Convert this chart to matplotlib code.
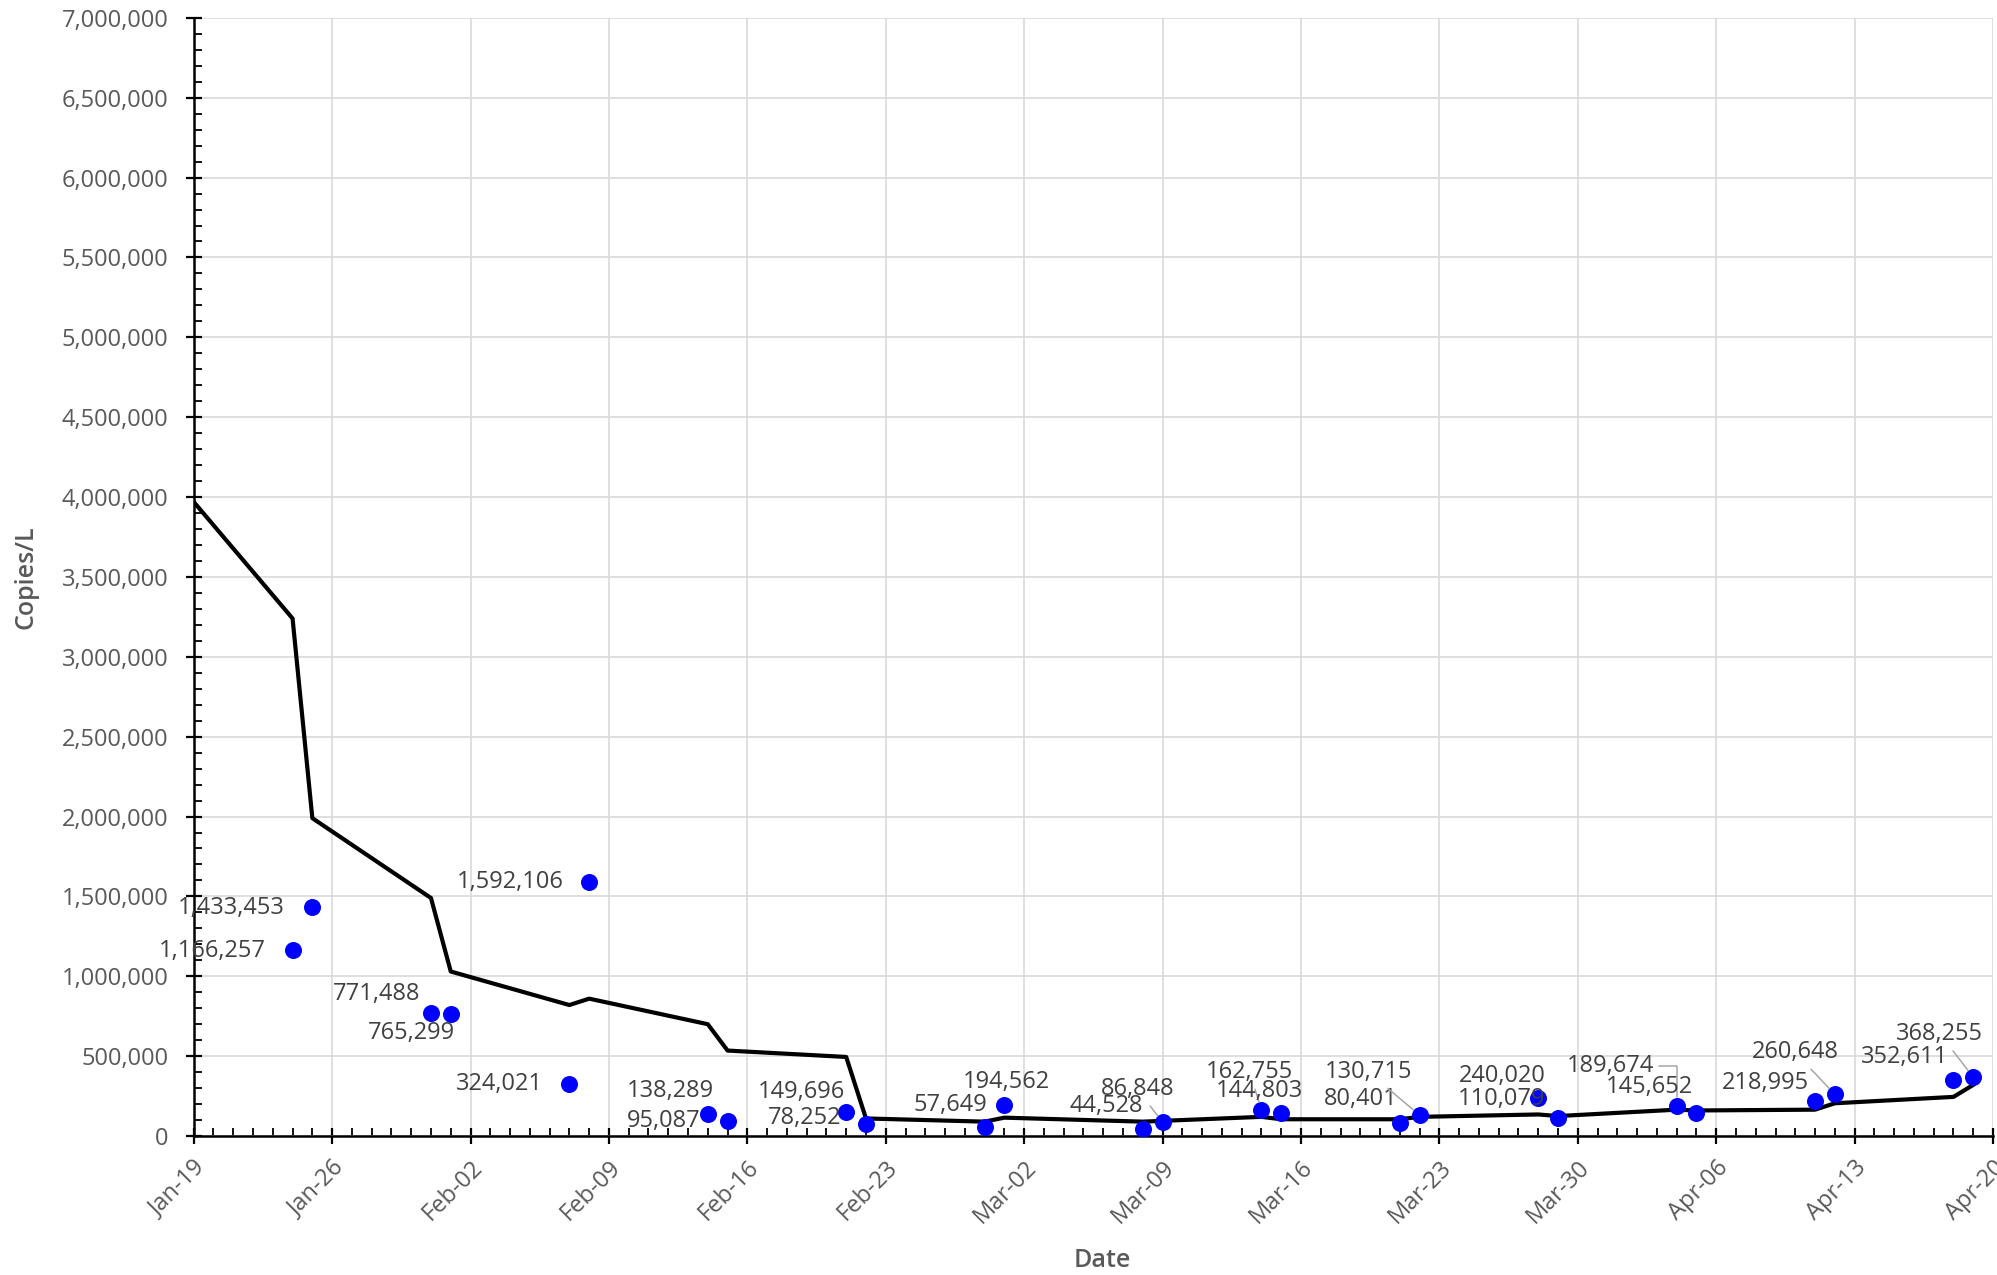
import datetime as dt
import matplotlib
matplotlib.use("Agg")
import matplotlib.pyplot as plt
import matplotlib.dates as mdates
import matplotlib.ticker as mticker
import numpy as np
import pandas as pd

# Trend line (Copies/L)
line_dates = ["2021-01-19", "2021-01-24", "2021-01-25", "2021-01-31", "2021-02-01",
              "2021-02-07", "2021-02-08", "2021-02-14", "2021-02-15", "2021-02-21",
              "2021-02-22", "2021-02-28", "2021-03-01", "2021-03-08", "2021-03-09",
              "2021-03-14", "2021-03-15", "2021-03-21", "2021-03-22", "2021-03-28",
              "2021-03-29", "2021-04-04", "2021-04-05", "2021-04-11", "2021-04-12",
              "2021-04-18", "2021-04-19"]
line_values = [3970000, 3240000, 1990000, 1490000, 1030000,
               820000, 860000, 700000, 535000, 495000,
               110000, 90000, 115000, 90000, 95000,
               120000, 105000, 105000, 120000, 135000,
               125000, 165000, 160000, 165000, 205000,
               245000, 320000]

# Sample measurements
sample_dates = ["2021-01-24", "2021-01-25", "2021-01-31", "2021-02-01", "2021-02-07",
                "2021-02-08", "2021-02-14", "2021-02-15", "2021-02-21", "2021-02-22",
                "2021-02-28", "2021-03-01", "2021-03-08", "2021-03-09", "2021-03-14",
                "2021-03-15", "2021-03-21", "2021-03-22", "2021-03-28", "2021-03-29",
                "2021-04-04", "2021-04-05", "2021-04-11", "2021-04-12", "2021-04-18",
                "2021-04-19"]
sample_values = [1166257, 1433453, 771488, 765299, 324021,
                 1592106, 138289, 95087, 149696, 78252,
                 57649, 194562, 44528, 86848, 162755,
                 144803, 80401, 130715, 240020, 110079,
                 189674, 145652, 218995, 260648, 352611,
                 368255]

# label placement (screen px offsets from point: right edge of text, centre y)
label_offsets = [(-21, 1), (-22, 1), (-8, -15), (3, 15), (-21, 0),
                 (-20, 0), (5, -18), (-21, 0), (-1, -16), (-19, -4),
                 (2, -17), (36, -18), (0, -18), (9, -26), (25, -30),
                 (17, -17), (-2, -19), (-6, -34), (6, -17), (-10, -15),
                 (-18, -31), (-3, -20), (-5, -14), (3, -33), (-4, -18),
                 (8, -34)]
leader_labels = {86848, 162755, 130715, 189674, 260648, 368255}

line_x = pd.to_datetime(line_dates)
sample_x = pd.to_datetime(sample_dates)

fig = plt.figure(figsize=(19.97, 12.75), dpi=100)
ax = fig.add_axes([0.097, 0.109, 0.901, 0.877])

font = ["Open Sans", "DejaVu Sans"]
tick_color = "#595959"
label_color = "#404040"

ax.plot(line_x, line_values, color="black", lw=3.0, zorder=3)
ax.scatter(sample_x, sample_values, s=150, color="#0000ff", zorder=4, linewidths=0)

px2pt = 1.274 / 1.389
for x, v, (dx, dy) in zip(sample_x, sample_values, label_offsets):
    kw = {}
    if v in leader_labels:
        cs = "angle,angleA=0,angleB=90,rad=0" if v == 189674 else "arc3"
        kw["arrowprops"] = dict(arrowstyle="-", color="#a6a6a6", lw=1.1,
                                shrinkA=2, shrinkB=6, connectionstyle=cs)
    ax.annotate(f"{v:,}", xy=(x, v), xytext=(dx * px2pt, -dy * px2pt),
                textcoords="offset points", ha="right", va="center",
                fontsize=17, color=label_color, family=font, zorder=5, **kw)

ax.set_xlim(pd.Timestamp("2021-01-19"), pd.Timestamp("2021-04-20"))
ax.set_ylim(0, 7000000)

major_x = pd.date_range("2021-01-19", "2021-04-20", freq="7D")
ax.set_xticks(major_x)
ax.xaxis.set_major_formatter(mdates.DateFormatter("%b-%d"))
ax.xaxis.set_minor_locator(mdates.DayLocator())
ax.yaxis.set_major_locator(mticker.MultipleLocator(500000))
ax.yaxis.set_minor_locator(mticker.MultipleLocator(100000))
ax.yaxis.set_major_formatter(mticker.FuncFormatter(lambda v, p: f"{int(v):,}"))

ax.grid(True, which="major", color="#d9d9d9", lw=1.2, zorder=0)
ax.set_axisbelow(True)
for s in ["top", "right"]:
    ax.spines[s].set_visible(False)
for s in ["left", "bottom"]:
    ax.spines[s].set_linewidth(1.8)
    ax.spines[s].set_color("black")

ax.tick_params(which="major", direction="inout", length=12, width=1.6, colors="black",
               labelcolor=tick_color, labelsize=17)
ax.tick_params(which="minor", direction="in", length=6, width=1.3, color="black")
ax.tick_params(axis="y", which="major", pad=12)
ax.tick_params(axis="x", which="major", pad=8)
for lab in ax.get_xticklabels():
    lab.set_rotation(45)
    lab.set_ha("right")
    lab.set_rotation_mode("anchor")
for lab in ax.get_xticklabels() + ax.get_yticklabels():
    lab.set_family(font)

ax.set_ylabel("Copies/L", fontsize=18, color=tick_color, family=font, fontweight="semibold")
ax.set_xlabel("Date", fontsize=18, color=tick_color, family=font, fontweight="semibold")
ax.yaxis.set_label_coords(-0.086, 0.5)
ax.xaxis.set_label_coords(0.505, -0.100)

fig.savefig("out.png", dpi=100)
plt.close(fig)
